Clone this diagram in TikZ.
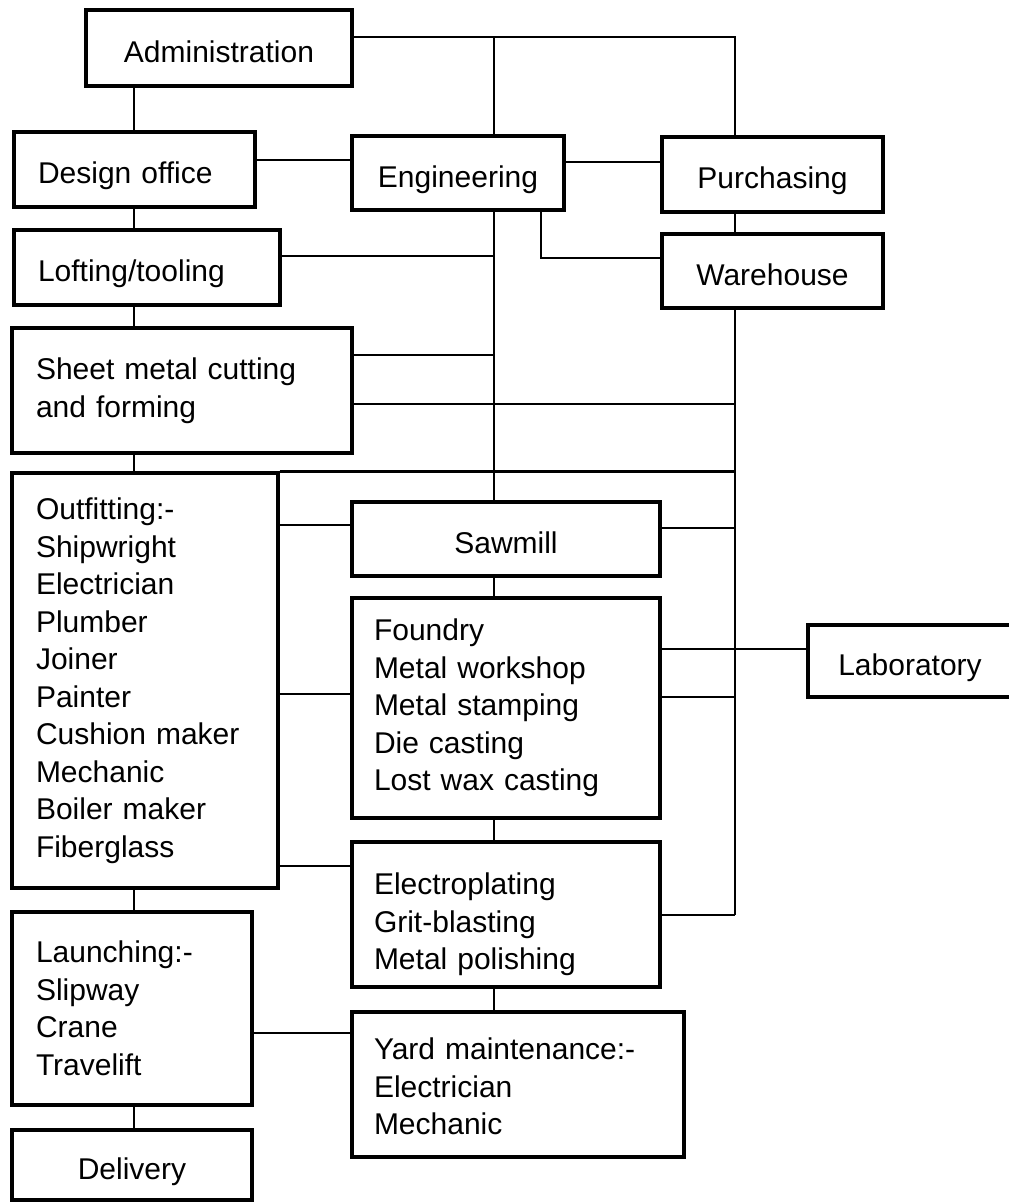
\documentclass[tikz,border=0pt]{standalone}
\usepackage{fontspec}
\setmainfont{Liberation Sans}
\begin{document}
\begin{tikzpicture}[x=1pt,y=-1pt,
  box/.style={draw, line width=3.2pt, rectangle, inner sep=0pt, font=\fontsize{30}{37.5}\selectfont},
  lbox/.style={box, align=left},
  cbox/.style={box, align=center, text height=28pt, text depth=0pt},
  one/.style={text height=28pt, text depth=0pt},
  link/.style={line width=2.6pt},
]
\useasboundingbox (0,0) rectangle (1009,1203);
% boxes
\node[cbox, minimum width=266, minimum height=76] (admin) at (219,48) {Administration};
\node[lbox, one, minimum width=241, minimum height=75, text width=193] (design) at (134.5,169.5) {Design office};
\node[cbox, minimum width=212, minimum height=74] (eng) at (458,173) {Engineering};
\node[cbox, minimum width=221, minimum height=75] (purch) at (772.5,174.5) {Purchasing};
\node[lbox, one, minimum width=266, minimum height=75, text width=218] (loft) at (147,267.5) {Lofting/tooling};
\node[cbox, minimum width=221, minimum height=74] (ware) at (772.5,271) {Warehouse};
\node[lbox, minimum width=340, minimum height=125, text width=292] (sheet) at (182,390.5) {Sheet metal cutting\\and forming};
\node[lbox, minimum width=266, minimum height=415, text width=218] (outfit) at (145,680.5) {Outfitting:-\\Shipwright\\Electrician\\Plumber\\Joiner\\Painter\\Cushion maker\\Mechanic\\Boiler maker\\Fiberglass};
\node[cbox, minimum width=308, minimum height=74] (saw) at (506,539) {Sawmill};
\node[lbox, minimum width=308, minimum height=220, text width=264] (foundry) at (506,708) {Foundry\\Metal workshop\\Metal stamping\\Die casting\\Lost wax casting};
\node[cbox, minimum width=204, minimum height=72] (lab) at (910,661) {Laboratory};
\node[lbox, minimum width=308, minimum height=145, text width=264] (electro) at (506,914.5) {\rule{0pt}{42pt}Electroplating\\Grit-blasting\\Metal polishing};
\node[lbox, minimum width=332, minimum height=145, text width=288] (yard) at (518,1084.5) {\rule{0pt}{26pt}Yard maintenance:-\\Electrician\\Mechanic};
\node[lbox, minimum width=240, minimum height=193, text width=192] (launch) at (132,1008.5) {Launching:-\\Slipway\\Crane\\Travelift};
\node[cbox, minimum width=240, minimum height=70] (delivery) at (132,1165) {Delivery};
% spine coordinates
\coordinate (top) at (0,37);
\coordinate (vE) at (494,0);
\coordinate (vW) at (735,0);
\coordinate (cL) at (134,0);
\coordinate (vEng) at (541,0);
% connectors
\draw[link] (admin.east |- top) -| (vW |- purch.north);
\draw[link] (vE |- top) -- (vE |- eng.north);
\draw[link] (cL |- admin.south) -- (cL |- design.north);
\draw[link] (design.east |- 0,160) -- (eng.west |- 0,160);
\draw[link] (eng.east |- 0,162) -- (purch.west |- 0,162);
\draw[link] (cL |- design.south) -- (cL |- loft.north);
\draw[link] (vW |- purch.south) -- (vW |- ware.north);
\draw[link] (vEng |- eng.south) |- (ware.west |- 0,258);
\draw[link] (loft.east |- 0,256) -- (vE |- 0,256);
\draw[link] (vE |- eng.south) -- (vE |- saw.north);
\draw[link] (cL |- loft.south) -- (cL |- sheet.north);
\draw[link] (vW |- ware.south) -- (vW |- 0,915);
\draw[link] (sheet.east |- 0,355) -- (vE |- 0,355);
\draw[link] (sheet.east |- 0,404) -- (vW |- 0,404);
\draw[link] (cL |- sheet.south) -- (cL |- outfit.north);
\draw[link] (outfit.north east) -- (vW |- outfit.north);
\draw[link] (outfit.east |- 0,525) -- (saw.west |- 0,525);
\draw[link] (saw.east |- 0,528) -- (vW |- 0,528);
\draw[link] (vE |- saw.south) -- (vE |- foundry.north);
\draw[link] (foundry.east |- 0,649) -- (lab.west |- 0,649);
\draw[link] (foundry.east |- 0,697) -- (vW |- 0,697);
\draw[link] (outfit.east |- 0,694) -- (foundry.west |- 0,694);
\draw[link] (outfit.east |- 0,866) -- (electro.west |- 0,866);
\draw[link] (vE |- foundry.south) -- (vE |- electro.north);
\draw[link] (electro.east |- 0,915) -- (vW |- 0,915);
\draw[link] (cL |- outfit.south) -- (cL |- launch.north);
\draw[link] (vE |- electro.south) -- (vE |- yard.north);
\draw[link] (launch.east |- 0,1033) -- (yard.west |- 0,1033);
\draw[link] (cL |- launch.south) -- (cL |- delivery.north);
\end{tikzpicture}
\end{document}
